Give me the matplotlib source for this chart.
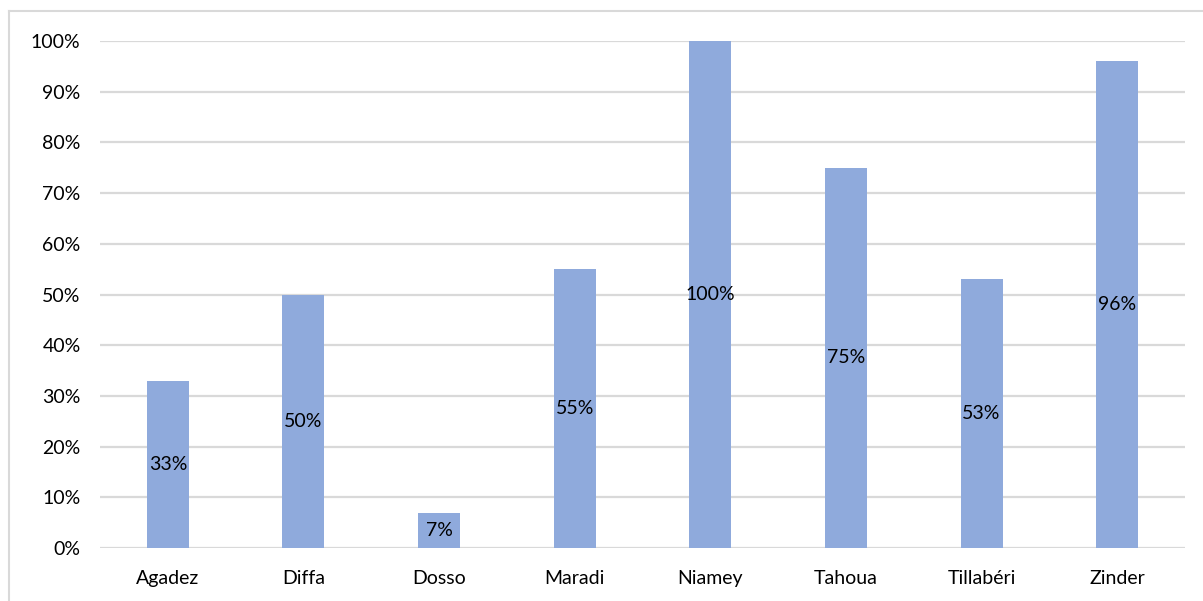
import matplotlib

matplotlib.use("Agg")
import matplotlib.pyplot as plt
import matplotlib.ticker as mticker
from matplotlib.lines import Line2D

plt.rcParams["font.family"] = ["Lato", "DejaVu Sans"]

regions = ["Agadez", "Diffa", "Dosso", "Maradi", "Niamey", "Tahoua", "Tillabéri", "Zinder"]
shares = [0.33, 0.50, 0.07, 0.55, 1.00, 0.75, 0.53, 0.96]
yticks = [0.0, 0.1, 0.2, 0.3, 0.4, 0.5, 0.6, 0.7, 0.8, 0.9, 1.0]

BAR = "#8FAADC"
GRID = "#D9D9D9"

fig = plt.figure(figsize=(12.03, 6.01), dpi=100)
ax = fig.add_axes([100 / 1203, 1 - 548 / 601, 1085 / 1203, 507 / 601])

x = range(len(regions))
bars = ax.bar(x, shares, width=0.31, color=BAR, zorder=2)
for b, v in zip(bars, shares):
    ax.text(b.get_x() + b.get_width() / 2, v / 2, f"{v * 100:.0f}%",
            ha="center", va="center", fontsize=14, color="black", zorder=3)

ax.set_xlim(-0.5, len(regions) - 0.5)
ax.set_ylim(0, 1)
ax.set_yticks(yticks)
ax.yaxis.set_major_formatter(mticker.FuncFormatter(lambda v, _: f"{v * 100:.0f}%"))
ax.set_xticks(list(x))
ax.set_xticklabels(regions)
ax.tick_params(length=0, labelsize=14, colors="black")
ax.tick_params(axis="y", pad=14)
ax.tick_params(axis="x", pad=16)
ax.grid(axis="y", color=GRID, linewidth=1.6, zorder=0)
ax.set_axisbelow(True)
for s in ax.spines.values():
    s.set_visible(False)

# outer chart frame (clipped at right and bottom in the source)
fig.add_artist(Line2D([9 / 1203, 1], [1 - 11 / 601, 1 - 11 / 601], color=GRID, linewidth=1.5))
fig.add_artist(Line2D([9 / 1203, 9 / 1203], [0, 1 - 11 / 601], color=GRID, linewidth=1.5))

fig.savefig("out.png", dpi=100)
